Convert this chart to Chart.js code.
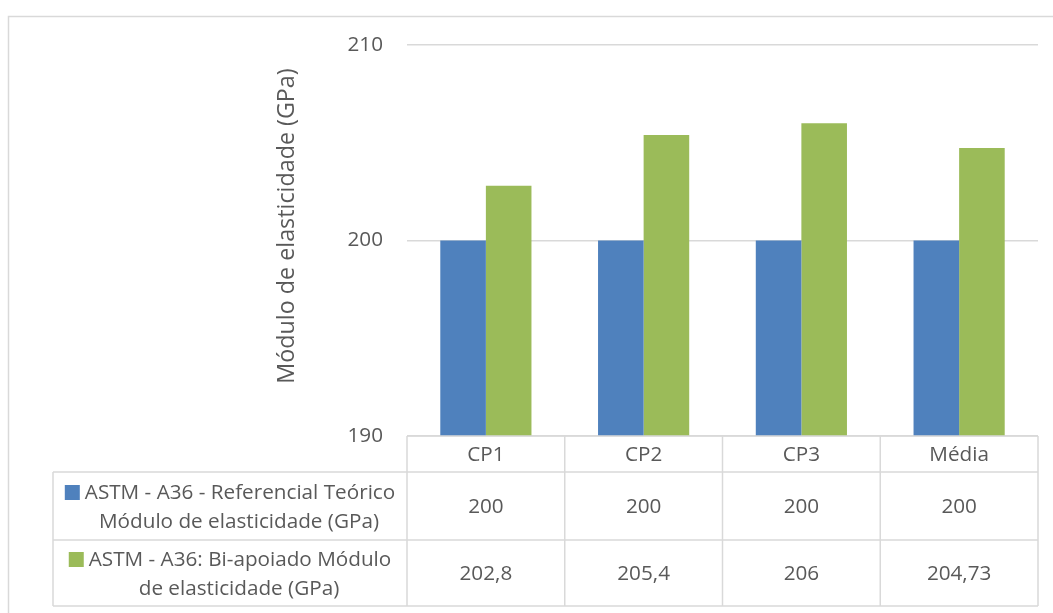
<!DOCTYPE html>
<html>
<head>
<meta charset="utf-8">
<script src="https://cdn.jsdelivr.net/npm/chart.js@4.4.1/dist/chart.umd.min.js"></script>
<style>
html,body{margin:0;padding:0;background:#fff;}
#wrap{width:1053px;height:613px;position:relative;}
</style>
</head>
<body>
<div id="wrap"><canvas id="c" width="1053" height="613"></canvas></div>
<script>
const categories = ['CP1', 'CP2', 'CP3', 'Média'];
const seriesTeorico = [200, 200, 200, 200];
const seriesBiapoiado = [202.8, 205.4, 206, 204.73];
const seriesNames = [
  ['ASTM - A36 - Referencial Teórico', 'Módulo de elasticidade (GPa)'],
  ['ASTM - A36: Bi-apoiado Módulo', 'de elasticidade (GPa)']
];
const yTicks = [190, 200, 210];
const yTitle = 'Módulo de elasticidade (GPa)';

const FONT = '"Open Sans", "Liberation Sans", sans-serif';
const TXT = '#595959';
const LINE = '#D9D9D9';
const colors = ['#4F81BD', '#9BBB59'];
const FS = 20.7;

function fmt(v){ return String(v).replace('.', ','); }

const tablePlugin = {
  id: 'tablePlugin',
  beforeDraw(chart){
    const ctx = chart.ctx;
    ctx.save();
    ctx.strokeStyle = LINE;
    ctx.lineWidth = 1.5;
    ctx.strokeRect(8.5, 16.5, 1060, 620);
    ctx.restore();
  },
  afterDraw(chart){
    const ctx = chart.ctx;
    const ca = chart.chartArea;
    const xs = chart.scales.x;
    const n = categories.length;
    const colW = (ca.right - ca.left) / n;
    const legendLeft = 53;
    const rowTop = [ca.bottom, ca.bottom + 36, ca.bottom + 104];
    const tableBottom = ca.bottom + 170;
    ctx.save();
    ctx.strokeStyle = LINE;
    ctx.lineWidth = 1.5;
    ctx.beginPath();
    ctx.moveTo(ca.left, rowTop[0]); ctx.lineTo(ca.right, rowTop[0]);
    ctx.moveTo(legendLeft, rowTop[1]); ctx.lineTo(ca.right, rowTop[1]);
    ctx.moveTo(legendLeft, rowTop[2]); ctx.lineTo(ca.right, rowTop[2]);
    ctx.moveTo(legendLeft, tableBottom); ctx.lineTo(ca.right, tableBottom);
    for (let i = 0; i <= n; i++) {
      const x = ca.left + i * colW;
      ctx.moveTo(x, rowTop[0]); ctx.lineTo(x, tableBottom);
    }
    ctx.moveTo(legendLeft, rowTop[1]); ctx.lineTo(legendLeft, tableBottom);
    ctx.stroke();

    ctx.fillStyle = TXT;
    ctx.font = FS + 'px ' + FONT;
    ctx.textAlign = 'center';
    ctx.textBaseline = 'middle';
    categories.forEach((c, i) => {
      const x = xs.getPixelForValue(i);
      ctx.fillText(c, x, (rowTop[0] + rowTop[1]) / 2 + 1);
    });
    const seriesVals = [seriesTeorico, seriesBiapoiado];
    seriesVals.forEach((vals, r) => {
      const yMid = r === 0 ? (rowTop[1] + rowTop[2]) / 2 : (rowTop[2] + tableBottom) / 2;
      vals.forEach((v, i) => {
        const x = xs.getPixelForValue(i);
        ctx.fillText(fmt(v), x, yMid + 1);
      });
      const cellC = (legendLeft + ca.left) / 2;
      const lines = seriesNames[r];
      const l1 = lines[0];
      const w1 = ctx.measureText(l1).width;
      const key = 15, gap = 5;
      const total = key + gap + w1;
      const startX = cellC - total / 2;
      const y1 = yMid - 14, y2 = yMid + 15;
      ctx.fillStyle = colors[r];
      ctx.fillRect(startX, y1 - 7, key, key);
      ctx.fillStyle = TXT;
      ctx.textAlign = 'left';
      ctx.fillText(l1, startX + key + gap, y1 + 1);
      ctx.textAlign = 'center';
      ctx.fillText(lines[1], cellC + 9, y2 + 1);
    });
    ctx.save();
    ctx.translate(287, 226);
    ctx.rotate(-Math.PI / 2);
    ctx.font = '23.3px ' + FONT;
    ctx.fillText(yTitle, 0, 0);
    ctx.restore();
    ctx.restore();
  }
};

new Chart(document.getElementById('c'), {
  type: 'bar',
  data: {
    labels: categories,
    datasets: [
      { label: seriesNames[0].join(' '), data: seriesTeorico, backgroundColor: colors[0], borderWidth: 0 },
      { label: seriesNames[1].join(' '), data: seriesBiapoiado, backgroundColor: colors[1], borderWidth: 0 }
    ]
  },
  options: {
    responsive: false,
    animation: false,
    events: [],
    layout: { padding: { left: 0, top: 45, right: 15, bottom: 177 } },
    datasets: { bar: { categoryPercentage: 0.578, barPercentage: 1 } },
    plugins: { legend: { display: false }, tooltip: { enabled: false }, title: { display: false } },
    scales: {
      x: { display: false, offset: true },
      y: {
        min: 190, max: 210,
        afterBuildTicks(scale){ scale.ticks = yTicks.map(v => ({ value: v })); },
        afterFit(scale){ scale.width = 407; },
        border: { display: false },
        grid: { color: LINE, lineWidth: 1.5, drawTicks: false },
        ticks: { color: TXT, font: { family: FONT, size: FS }, padding: 24 }
      }
    }
  },
  plugins: [tablePlugin]
});
</script>
</body>
</html>
